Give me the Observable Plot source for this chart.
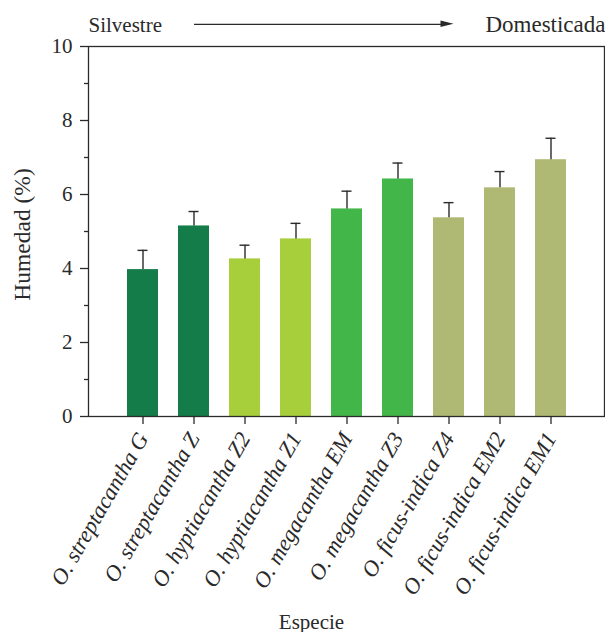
<!DOCTYPE html>
<html><head><meta charset="utf-8">
<script src="https://cdn.jsdelivr.net/npm/d3@7"></script>
<script src="https://cdn.jsdelivr.net/npm/@observablehq/plot@0.6"></script>
<style>body{margin:0;background:#fff}</style>
</head><body><div id="chart"></div>
<script>
const species = ["O. streptacantha G","O. streptacantha Z","O. hyptiacantha Z2","O. hyptiacantha Z1","O. megacantha EM","O. megacantha Z3","O. ficus-indica Z4","O. ficus-indica EM2","O. ficus-indica EM1"];
const groups = ["streptacantha","streptacantha","hyptiacantha","hyptiacantha","megacantha","megacantha","ficus-indica","ficus-indica","ficus-indica"];
const humedad = [3.97, 5.15, 4.26, 4.80, 5.61, 6.42, 5.37, 6.18, 6.94];
const errores = [0.52, 0.39, 0.37, 0.42, 0.48, 0.43, 0.41, 0.44, 0.58];
const groupColors = ["#137c48", "#a7ce3b", "#43b64a", "#afb973"];
const yTicks = [0, 2, 4, 6, 8, 10];
const yMinorTicks = [1, 3, 5, 7, 9];
const titleLeft = "Silvestre", titleRight = "Domesticada";
const yLabel = "Humedad (%)", xLabel = "Especie";
const arrowSpan = [{from: species[1], to: species[6], y: 10.6}];

const data = species.map((s, i) => ({especie: s, grupo: groups[i], valor: humedad[i], error: errores[i]}));
const font = "'Liberation Serif', 'Times New Roman', serif";
const ink = "#2a2a2a";

const plot = Plot.plot({
  width: 605, height: 632,
  marginTop: 46, marginLeft: 88, marginRight: 1, marginBottom: 216,
  style: {fontFamily: font, fontSize: "21px", color: ink, background: "#fff", overflow: "visible"},
  x: {domain: species, paddingInner: 0.4, paddingOuter: 0.71, label: null},
  y: {domain: [0, 10], label: null},
  color: {domain: [...new Set(groups)], range: groupColors},
  marks: [
    Plot.barY(data, {x: "especie", y: "valor", fill: "grupo"}),
    Plot.ruleX(data, {x: "especie", y1: "valor", y2: d => d.valor + d.error, stroke: ink, strokeWidth: 1.4}),
    Plot.tickY(data, {x: "especie", y: d => d.valor + d.error, stroke: ink, strokeWidth: 1.4, insetLeft: 10.5, insetRight: 10.5}),
    Plot.frame({stroke: ink, strokeWidth: 1.3}),
    Plot.axisY({ticks: yTicks, tickSize: 8, tickPadding: 8, label: null, stroke: ink, strokeWidth: 1.3}),
    Plot.axisY({ticks: yMinorTicks, tickSize: 4, text: null, label: null, stroke: ink, strokeWidth: 1.3}),
    Plot.axisX({tickSize: 8, tickPadding: 10, tickRotate: -60, fontStyle: "italic", fontSize: 22.5, label: null, stroke: ink, strokeWidth: 1.3}),
    Plot.text([yLabel], {frameAnchor: "left", textAnchor: "middle", rotate: -90, dx: -66, dy: 3, fontSize: 23.5, fill: ink}),
    Plot.text([xLabel], {frameAnchor: "bottom", lineAnchor: "bottom", dx: -35, dy: 212, fill: ink}),
    Plot.text([titleLeft], {frameAnchor: "top-left", textAnchor: "start", lineAnchor: "bottom", dy: -15, fill: ink}),
    Plot.text([titleRight], {frameAnchor: "top-right", textAnchor: "end", lineAnchor: "bottom", dx: 1, dy: -15, fontSize: 23, fill: ink}),
    Plot.link(arrowSpan, {x1: "from", x2: "to", y1: "y", y2: "y", stroke: ink, strokeWidth: 1.3})
  ]
});

// filled arrowhead at the end of the link, placed with the plot's own scales
const xs = plot.scale("x"), ys = plot.scale("y");
const svg = d3.select(plot);
arrowSpan.forEach(a => {
  const x0 = xs.apply(a.to) + xs.bandwidth / 2;
  const y0 = ys.apply(a.y);
  svg.append("path")
    .attr("d", `M${x0 - 8},${y0 - 3.2}L${x0 + 5},${y0}L${x0 - 8},${y0 + 3.2}Z`)
    .attr("fill", ink);
});

document.getElementById("chart").append(plot);
</script>
</body></html>
